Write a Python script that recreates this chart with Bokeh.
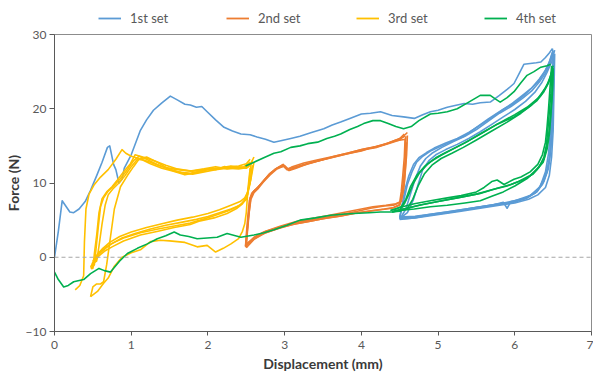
from bokeh.plotting import figure
from bokeh.layouts import column
from bokeh.models import Span, Legend, LegendItem, Range1d, FixedTicker
from bokeh.embed import file_html
from bokeh.resources import INLINE

# ---------------- data ----------------
series_labels = ["1st set", "2nd set", "3rd set", "4th set"]
series_colors = ["#5B9BD5", "#ED7D31", "#FFC000", "#00B050"]
x_ticks = [0, 1, 2, 3, 4, 5, 6, 7]
y_ticks = [-10, 0, 10, 20, 30]

# 1st set: initial loading curve, then unload/reload cycles
set1_x = [
    [0.0, 0.05, 0.1, 0.14, 0.2, 0.25, 0.32, 0.4, 0.47, 0.55, 0.62, 0.69, 0.72, 0.77, 0.8, 0.84, 0.88, 0.91, 1.0, 1.12, 1.2, 1.29, 1.4, 1.51, 1.6, 1.7, 1.77, 1.85, 1.92, 1.99, 2.1, 2.21, 2.32, 2.43, 2.55, 2.64, 2.75, 2.86, 2.95, 3.08, 3.2, 3.35, 3.51, 3.62, 3.73, 3.85, 4.0, 4.12, 4.25, 4.4, 4.55, 4.69, 4.8, 4.9, 5.0, 5.12, 5.25, 5.34, 5.45, 5.55, 5.68, 5.8, 5.9, 5.99, 6.06, 6.12, 6.2, 6.28, 6.34, 6.4, 6.45, 6.49],
    [6.49, 6.5, 6.5, 6.48, 6.45, 6.4, 6.3, 6.15, 6.0, 5.8, 5.55, 5.3, 5.12, 4.9, 4.69, 4.5],
    [4.5, 4.55, 4.6, 4.66, 4.72, 4.8, 4.9, 5.05, 5.2, 5.34, 5.5, 5.65, 5.8, 5.95, 6.1, 6.21, 6.3, 6.38, 6.44, 6.49],
    [6.5, 6.49, 6.47, 6.44, 6.4, 6.33, 6.2, 6.0, 5.8, 5.55, 5.3, 5.1, 4.9, 4.7, 4.5],
    [4.5, 4.53, 4.57, 4.62, 4.68, 4.75, 4.85, 4.95, 5.1, 5.25, 5.4, 5.55, 5.7, 5.85, 6.0, 6.12, 6.22, 6.32, 6.4, 6.46, 6.5],
    [6.51, 6.5, 6.49, 6.47, 6.44, 6.38, 6.29, 6.15, 5.99, 5.8, 5.55, 5.3, 5.12, 4.9, 4.69, 4.5],
    [4.5, 4.58, 4.64, 4.7, 4.77, 4.84, 4.92, 5.05, 5.2, 5.35, 5.5, 5.65, 5.8, 5.95, 6.1, 6.22, 6.32, 6.4, 6.46, 6.5],
    [6.51, 6.5, 6.48, 6.46, 6.42, 6.36, 6.26, 6.12, 5.95, 5.9, 5.85, 5.7, 5.5, 5.3, 5.1, 4.9, 4.7, 4.5],
    [4.5, 4.6, 4.68, 4.74, 4.8, 4.88, 4.97, 5.1, 5.25, 5.4, 5.55, 5.7, 5.85, 6.0, 6.14, 6.26, 6.35, 6.42, 6.48, 6.52],
    [6.52, 6.51, 6.5, 6.48, 6.45, 6.4, 6.3, 6.18, 6.0, 5.8, 5.55, 5.3, 5.1, 4.9, 4.7, 4.55],
]
set1_y = [
    [0.0, 3.5, 7.6, 7.0, 6.1, 6.0, 6.5, 7.5, 9.0, 11.0, 12.8, 14.8, 15.0, 12.5, 11.8, 10.0, 10.5, 12.0, 13.8, 17.1, 18.5, 19.8, 20.8, 21.7, 21.2, 20.6, 20.5, 20.2, 20.3, 19.6, 18.5, 17.5, 17.0, 16.6, 16.5, 16.2, 15.9, 15.5, 15.7, 16.0, 16.3, 16.8, 17.3, 17.8, 18.2, 18.7, 19.3, 19.4, 19.6, 19.1, 18.9, 18.7, 19.2, 19.6, 19.8, 20.2, 20.5, 20.7, 20.6, 20.8, 20.9, 21.8, 22.6, 23.4, 24.8, 26.0, 26.1, 26.2, 26.3, 26.9, 27.5, 28.1],
    [28.1, 27.5, 22.0, 17.0, 13.0, 11.0, 9.0, 8.0, 7.5, 7.2, 6.8, 6.4, 6.1, 5.8, 5.4, 5.3],
    [5.3, 7.5, 9.8, 11.5, 12.8, 13.6, 14.3, 15.0, 15.7, 16.3, 17.5, 18.6, 19.6, 20.6, 21.8, 22.7, 23.6, 24.8, 26.0, 27.6],
    [27.4, 22.5, 17.5, 14.0, 11.5, 9.5, 8.3, 7.6, 7.2, 6.8, 6.4, 6.1, 5.8, 5.5, 5.4],
    [5.4, 7.0, 9.2, 11.0, 12.5, 13.4, 14.1, 14.7, 15.4, 16.0, 16.8, 17.8, 18.8, 19.9, 20.8, 21.8, 22.8, 24.0, 25.2, 26.5, 27.8],
    [27.2, 22.0, 17.5, 14.5, 12.0, 10.2, 8.8, 7.9, 7.4, 7.1, 6.7, 6.3, 6.0, 5.7, 5.3, 5.1],
    [5.1, 6.5, 8.5, 10.5, 12.3, 13.3, 14.0, 14.8, 15.6, 16.3, 17.2, 18.3, 19.4, 20.3, 21.4, 22.4, 23.6, 24.8, 26.2, 27.5],
    [27.0, 21.5, 17.0, 14.0, 11.5, 9.8, 8.6, 7.9, 7.5, 6.6, 7.4, 7.0, 6.7, 6.3, 6.0, 5.7, 5.4, 5.2],
    [5.2, 6.0, 7.8, 9.8, 11.8, 13.0, 13.8, 14.5, 15.2, 16.0, 16.9, 17.9, 18.9, 19.9, 21.0, 22.2, 23.5, 24.9, 26.3, 27.9],
    [27.4, 22.0, 17.0, 13.5, 11.0, 9.4, 8.4, 7.8, 7.3, 7.0, 6.6, 6.2, 5.9, 5.6, 5.3, 5.2],
]

# 2nd set: loops between 2.5 and 4.6 mm
set2_x = [
    [2.49, 2.51, 2.53, 2.55, 2.59, 2.64, 2.72, 2.8, 2.9, 2.98, 3.04, 3.12, 3.25, 3.4, 3.6, 3.8, 4.0, 4.12, 4.25, 4.4, 4.5, 4.56],
    [4.57, 4.56, 4.54, 4.52, 4.5, 4.42, 4.3, 4.12, 3.95, 3.75, 3.6, 3.4, 3.16, 2.95, 2.73, 2.6, 2.5],
    [2.5, 2.52, 2.54, 2.56, 2.6, 2.66, 2.74, 2.82, 2.92, 3.0, 3.06, 3.15, 3.3, 3.45, 3.65, 3.85, 4.05, 4.2, 4.35, 4.48, 4.57],
    [4.58, 4.57, 4.55, 4.53, 4.5, 4.4, 4.25, 4.1, 3.9, 3.7, 3.5, 3.3, 3.1, 2.9, 2.7, 2.58, 2.49],
    [2.49, 2.5, 2.52, 2.54, 2.57, 2.62, 2.7, 2.79, 2.88, 2.97, 3.03, 3.1, 3.25, 3.42, 3.6, 3.82, 4.0, 4.15, 4.3, 4.45, 4.58],
    [4.59, 4.58, 4.56, 4.53, 4.5, 4.42, 4.3, 4.15, 3.95, 3.75, 3.55, 3.35, 3.15, 2.95, 2.75, 2.6, 2.5],
    [2.5, 2.51, 2.53, 2.56, 2.6, 2.65, 2.72, 2.81, 2.9, 2.99, 3.05, 3.14, 3.28, 3.45, 3.65, 3.85, 4.05, 4.2, 4.35, 4.5, 4.6],
    [4.6, 4.59, 4.57, 4.55, 4.52, 4.45, 4.32, 4.15, 3.95, 3.75, 3.55, 3.35, 3.15, 2.95, 2.75, 2.6, 2.5],
]
set2_y = [
    [1.4, 3.5, 5.8, 8.0, 8.8, 9.3, 10.2, 11.2, 12.0, 12.5, 11.9, 12.1, 12.5, 12.9, 13.4, 13.9, 14.3, 14.7, 15.0, 15.6, 16.0, 16.6],
    [16.0, 13.5, 11.0, 8.8, 7.4, 7.0, 6.9, 6.6, 6.2, 5.8, 5.5, 5.1, 4.7, 4.1, 3.4, 2.6, 1.8],
    [1.8, 4.0, 6.3, 8.2, 8.9, 9.5, 10.5, 11.4, 12.1, 12.3, 11.7, 12.0, 12.6, 13.0, 13.6, 14.1, 14.6, 14.9, 15.4, 15.9, 16.3],
    [16.3, 13.0, 10.5, 8.5, 7.0, 6.6, 6.4, 6.2, 5.9, 5.5, 5.2, 4.8, 4.4, 3.8, 3.1, 2.3, 1.5],
    [1.5, 3.0, 5.5, 7.6, 8.6, 9.1, 10.0, 11.0, 11.9, 12.4, 11.8, 12.2, 12.7, 13.1, 13.5, 14.0, 14.5, 14.8, 15.2, 15.7, 15.9],
    [15.5, 13.0, 10.0, 8.2, 7.1, 6.7, 6.5, 6.3, 6.0, 5.6, 5.3, 4.9, 4.5, 4.0, 3.3, 2.4, 1.3],
    [1.3, 3.2, 5.5, 7.8, 8.7, 9.2, 10.1, 11.1, 11.9, 12.3, 11.7, 12.1, 12.5, 13.0, 13.5, 14.0, 14.5, 14.8, 15.3, 15.8, 16.8],
    [16.4, 13.8, 11.2, 9.0, 7.5, 7.2, 7.0, 6.8, 6.4, 6.0, 5.6, 5.2, 4.8, 4.2, 3.5, 2.7, 1.6],
]

# 3rd set: loops between 0.4 and 2.6 mm
set3_x = [
    [0.27, 0.33, 0.38, 0.39, 0.41, 0.45, 0.52, 0.6, 0.7, 0.8, 0.88, 0.93, 1.0, 1.1, 1.25, 1.4, 1.6, 1.8, 2.0, 2.2, 2.4, 2.5, 2.55],
    [2.55, 2.52, 2.5, 2.48, 2.45, 2.4, 2.3, 2.2, 2.1, 1.99, 1.86, 1.7, 1.5, 1.38, 1.25, 1.12, 1.0, 0.88, 0.78, 0.7, 0.64, 0.56, 0.47],
    [0.47, 0.5, 0.55, 0.6, 0.64, 0.68, 0.72, 0.78, 0.86, 0.95, 1.03, 1.1, 1.2, 1.34, 1.47, 1.6, 1.77, 1.9, 1.99, 2.1, 2.21, 2.35, 2.47, 2.55],
    [2.56, 2.54, 2.52, 2.5, 2.45, 2.38, 2.25, 2.08, 1.9, 1.77, 1.56, 1.35, 1.12, 0.9, 0.78, 0.69, 0.6, 0.56, 0.5, 0.47],
    [0.47, 0.5, 0.52, 0.55, 0.58, 0.62, 0.68, 0.75, 0.82, 0.9, 0.99, 1.05, 1.15, 1.3, 1.45, 1.6, 1.77, 1.95, 2.1, 2.25, 2.4, 2.5, 2.57],
    [2.58, 2.55, 2.52, 2.49, 2.45, 2.38, 2.25, 2.08, 1.9, 1.77, 1.56, 1.35, 1.12, 0.9, 0.75, 0.65, 0.58, 0.53, 0.5, 0.48],
    [0.48, 0.52, 0.54, 0.57, 0.6, 0.64, 0.7, 0.78, 0.86, 0.95, 1.03, 1.1, 1.2, 1.34, 1.5, 1.65, 1.8, 1.95, 2.1, 2.25, 2.4, 2.52, 2.58],
    [2.58, 2.55, 2.51, 2.47, 2.42, 2.3, 2.15, 2.0, 1.85, 1.65, 1.45, 1.25, 1.05, 0.88, 0.74, 0.64, 0.57, 0.52, 0.49],
    [0.49, 0.55, 0.58, 0.62, 0.66, 0.7, 0.76, 0.84, 0.92, 1.0, 1.08, 1.15, 1.25, 1.4, 1.55, 1.7, 1.85, 2.0, 2.15, 2.3, 2.45, 2.55, 2.6],
    [2.6, 2.56, 2.52, 2.48, 2.42, 2.3, 2.15, 2.0, 1.8, 1.6, 1.4, 1.2, 1.0, 0.85, 0.72, 0.63, 0.56, 0.5],
]
set3_y = [
    [-4.4, -3.8, -2.5, 2.0, 6.5, 8.5, 9.8, 10.8, 11.8, 13.2, 14.5, 14.0, 13.6, 13.3, 12.8, 12.2, 11.8, 11.6, 11.9, 12.0, 12.3, 12.6, 13.2],
    [12.0, 9.0, 6.0, 4.5, 3.5, 2.5, 1.8, 1.2, 0.7, 1.6, 1.4, 2.0, 2.2, 2.3, 2.1, 1.0, 0.6, 0.0, -1.2, -2.8, -3.5, -4.6, -5.3],
    [-5.3, -4.0, -3.6, -3.6, -3.3, -1.0, 2.0, 6.5, 9.5, 11.0, 12.2, 13.2, 13.5, 12.8, 12.0, 11.5, 11.3, 11.6, 11.9, 11.8, 12.2, 12.0, 12.2, 12.8],
    [12.5, 10.5, 8.5, 7.8, 7.3, 6.8, 6.2, 5.6, 5.0, 4.6, 4.2, 3.8, 3.3, 2.6, 2.0, 1.5, 0.8, 0.2, -0.8, -1.3],
    [-1.3, -1.5, 0.5, 3.0, 6.0, 7.9, 8.8, 9.5, 10.4, 11.5, 12.6, 13.8, 13.5, 13.0, 12.4, 11.9, 11.6, 11.9, 12.2, 11.9, 12.1, 12.0, 12.6],
    [12.2, 10.0, 8.6, 7.8, 7.2, 6.6, 5.9, 5.3, 4.9, 4.4, 4.0, 3.5, 3.0, 2.2, 1.4, 0.8, 0.2, -0.5, -1.0, -1.6],
    [-1.6, -1.0, 1.0, 4.0, 6.8, 8.0, 8.9, 9.7, 10.6, 11.8, 13.0, 13.6, 13.2, 12.5, 11.8, 11.4, 11.2, 11.5, 11.8, 12.0, 11.9, 12.1, 13.0],
    [12.4, 10.2, 8.5, 7.6, 7.0, 6.5, 6.0, 5.5, 5.1, 4.7, 4.3, 3.8, 3.2, 2.6, 1.8, 1.0, 0.3, -0.3, -0.9],
    [-0.9, -0.5, 1.5, 4.5, 7.0, 8.4, 9.2, 10.0, 11.0, 12.2, 13.2, 13.1, 12.6, 12.0, 11.6, 11.1, 11.4, 11.8, 12.0, 12.3, 12.1, 12.4, 13.5],
    [12.8, 10.5, 8.8, 8.0, 7.5, 7.0, 6.4, 5.9, 5.4, 5.0, 4.5, 4.0, 3.4, 2.8, 2.0, 1.2, 0.4, -0.5],
]

# 4th set: loading from 2.5 mm, cycles at 4.4-6.5 mm, return to 0
set4_x = [
    [2.49, 2.6, 2.75, 2.86, 2.95, 3.08, 3.2, 3.3, 3.43, 3.55, 3.65, 3.73, 3.85, 3.95, 4.03, 4.15, 4.25, 4.35, 4.45, 4.55, 4.65, 4.75, 4.9, 5.0, 5.12, 5.25, 5.4, 5.55, 5.68, 5.75, 5.81, 5.9, 5.99, 6.08, 6.16, 6.25, 6.34, 6.42, 6.47],
    [6.48, 6.46, 6.44, 6.42, 6.4, 6.36, 6.3, 6.2, 6.08, 5.99, 5.86, 5.77, 5.7, 5.6, 5.5, 5.3, 5.12, 4.9, 4.69, 4.5, 4.38],
    [4.38, 4.45, 4.52, 4.58, 4.64, 4.72, 4.82, 4.92, 5.05, 5.2, 5.35, 5.55, 5.75, 5.99, 6.15, 6.29, 6.38, 6.44, 6.48],
    [6.48, 6.47, 6.45, 6.43, 6.41, 6.38, 6.32, 6.24, 6.1, 5.95, 5.77, 5.55, 5.3, 5.05, 4.8, 4.6, 4.42],
    [4.42, 4.5, 4.56, 4.62, 4.68, 4.76, 4.86, 4.97, 5.1, 5.25, 5.4, 5.6, 5.8, 6.0, 6.16, 6.3, 6.4, 6.46, 6.5],
    [6.5, 6.49, 6.47, 6.45, 6.42, 6.38, 6.3, 6.2, 6.05, 5.9, 5.7, 5.5, 5.25, 5.0, 4.75, 4.55, 4.4],
    [4.4, 4.5, 4.6, 4.67, 4.74, 4.82, 4.92, 5.04, 5.18, 5.33, 5.5, 5.7, 5.9, 6.08, 6.22, 6.34, 6.42, 6.47, 6.5],
    [6.5, 6.49, 6.47, 6.45, 6.42, 6.37, 6.28, 6.16, 6.0, 5.85, 5.7, 5.55, 5.35, 5.12, 4.9, 4.69, 4.5, 4.4],
    [4.4, 4.25, 4.1, 3.9, 3.75, 3.6, 3.4, 3.2, 3.03, 2.86, 2.73, 2.6, 2.43, 2.25, 2.12, 1.99, 1.86, 1.75, 1.64, 1.56, 1.45, 1.34, 1.21, 1.08, 0.95, 0.85, 0.73, 0.65, 0.58, 0.47, 0.38, 0.25, 0.18, 0.12, 0.05, 0.0],
]
set4_y = [
    [12.3, 12.8, 13.5, 14.0, 14.2, 14.8, 15.0, 15.3, 15.5, 16.0, 16.3, 16.6, 17.2, 17.6, 18.0, 18.4, 18.4, 18.0, 17.6, 17.3, 17.6, 18.4, 19.3, 19.4, 19.6, 20.0, 20.9, 21.8, 21.8, 21.3, 20.9, 21.5, 22.3, 23.5, 24.5, 25.0, 25.6, 25.8, 26.0],
    [25.8, 23.0, 20.0, 17.5, 15.5, 13.8, 12.5, 11.5, 10.8, 10.5, 9.8, 10.4, 10.2, 9.4, 8.8, 8.3, 8.0, 7.6, 7.2, 6.7, 6.3],
    [6.3, 6.5, 6.8, 7.8, 9.5, 11.0, 12.2, 13.0, 13.8, 14.6, 15.4, 16.6, 17.8, 18.9, 20.0, 21.1, 22.3, 23.5, 25.0],
    [24.6, 22.0, 19.5, 17.0, 15.0, 13.5, 12.2, 11.2, 10.4, 9.8, 9.3, 8.6, 8.1, 7.6, 7.1, 6.6, 6.2],
    [6.2, 6.4, 7.2, 8.5, 10.0, 11.4, 12.5, 13.4, 14.1, 14.9, 15.7, 16.9, 18.1, 19.2, 20.2, 21.4, 22.8, 24.0, 25.5],
    [25.2, 22.5, 19.8, 17.2, 15.0, 13.2, 12.0, 11.0, 10.2, 9.6, 9.1, 8.5, 8.0, 7.5, 7.0, 6.5, 6.1],
    [6.1, 6.2, 6.6, 7.8, 9.6, 11.2, 12.4, 13.3, 14.0, 14.8, 15.8, 17.0, 18.2, 19.4, 20.5, 21.8, 23.2, 24.5, 25.8],
    [25.4, 22.0, 19.0, 16.5, 14.5, 12.8, 11.7, 10.6, 9.6, 8.8, 8.2, 7.6, 7.3, 7.0, 6.8, 6.5, 6.3, 6.1],
    [6.1, 6.1, 6.0, 5.9, 5.8, 5.65, 5.3, 5.0, 4.3, 3.7, 3.3, 3.0, 2.7, 3.2, 2.7, 2.6, 2.5, 2.8, 3.0, 3.4, 2.9, 2.5, 1.8, 1.2, 0.5, -0.5, -2.0, -1.8, -1.5, -2.2, -3.0, -3.3, -3.8, -4.0, -3.0, -2.0],
]

FONT = "Lato"
TOP_H = 27
LEFT = 54

# ---------------- legend strip ----------------
top = figure(width=593, height=TOP_H, output_backend="svg", toolbar_location=None,
             x_range=Range1d(0, 1), y_range=Range1d(0, 1), min_border=0)
top.axis.visible = False
top.xgrid.visible = False
top.ygrid.visible = False
top.outline_line_color = None
top.background_fill_color = "white"
top.border_fill_color = "white"

legend_x = [98, 226, 356, 484]
for lab, col, lx in zip(series_labels, series_colors, legend_x):
    # stand-in line kept outside the visible range; it only supplies the legend swatch
    dummy = top.line(x=[5, 6], y=[5, 5], line_color=col, line_width=1.8)
    lg = Legend(items=[LegendItem(label=lab, renderers=[dummy])], location=(lx - LEFT, 1),
                orientation="horizontal", padding=0, margin=0, spacing=0,
                border_line_alpha=0, background_fill_alpha=0,
                glyph_width=23, glyph_height=16, label_standoff=9,
                label_text_font=FONT, label_text_font_size="13px",
                label_text_color="#595959")
    top.add_layout(lg)

# ---------------- main chart ----------------
p = figure(width=593, height=374 - TOP_H, output_backend="svg", toolbar_location=None,
           x_range=Range1d(0, 7), y_range=Range1d(-10, 30),
           min_border_left=LEFT, min_border_right=2, min_border_top=34 - TOP_H, min_border_bottom=43,
           x_axis_label="Displacement (mm)", y_axis_label="Force (N)")
p.background_fill_color = "white"
p.border_fill_color = "white"
p.xgrid.visible = False
p.ygrid.visible = False
p.outline_line_color = "#8C8C8C"
p.outline_line_width = 1

p.xaxis.ticker = FixedTicker(ticks=x_ticks)
p.yaxis.ticker = FixedTicker(ticks=y_ticks)
for ax in (p.xaxis, p.yaxis):
    ax.axis_line_color = "#595959"
    ax.major_tick_line_color = "#595959"
    ax.minor_tick_line_color = None
    ax.major_tick_in = 0
    ax.major_label_text_font = FONT
    ax.major_label_text_font_size = "12px"
    ax.major_label_text_color = "#595959"
    ax.axis_label_text_font = FONT
    ax.axis_label_text_font_style = "bold"
    ax.axis_label_text_font_size = "14px"
    ax.axis_label_text_color = "#3A3A3A"
p.xaxis.major_tick_out = 4
p.yaxis.major_tick_out = 5
p.xaxis.major_label_standoff = 5
p.xaxis.axis_label_standoff = 3
p.yaxis.major_label_standoff = 3
p.yaxis.axis_label_standoff = 1

zero = Span(location=0, dimension="width", line_color="#A6A6A6", line_dash="4 3", line_width=1)
p.add_layout(zero)

all_x = [set1_x, set2_x, set3_x, set4_x]
all_y = [set1_y, set2_y, set3_y, set4_y]
for xs, ys, col in zip(all_x, all_y, series_colors):
    p.multi_line(xs=xs, ys=ys, line_color=col, line_width=1.6, line_join="round")

layout = column(top, p, spacing=0)
open("out.html", "w").write(file_html(layout, INLINE))
